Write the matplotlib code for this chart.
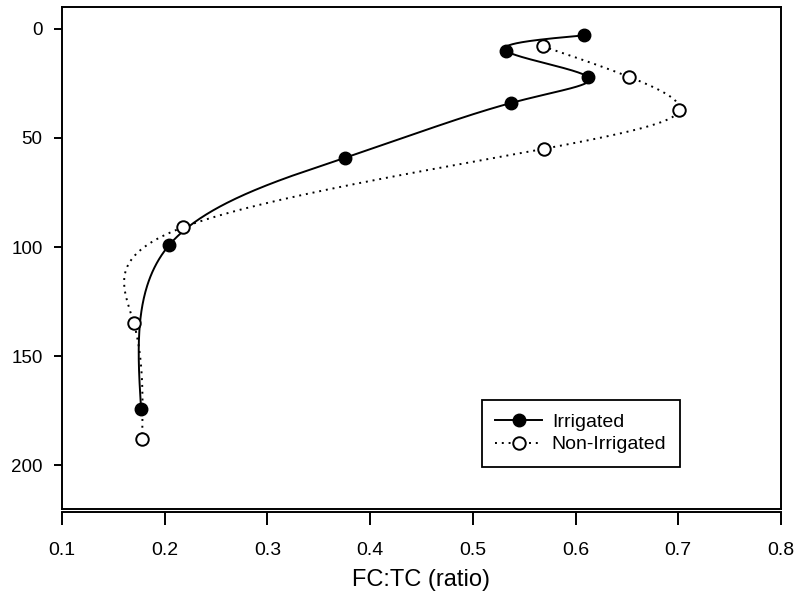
import numpy as np
import matplotlib
matplotlib.use("Agg")
import matplotlib.pyplot as plt

plt.rcParams['font.family'] = ['Liberation Sans', 'DejaVu Sans']

# depth profile, ordered top to bottom
irr_ratio = [0.608, 0.532, 0.612, 0.537, 0.376, 0.2045, 0.177]
irr_depth = [3, 10, 22, 34, 59, 99, 174]
non_ratio = [0.568, 0.652, 0.701, 0.569, 0.2175, 0.170, 0.178]
non_depth = [8, 22, 37, 55, 91, 135, 188]

x_ticks = [0.1, 0.2, 0.3, 0.4, 0.5, 0.6, 0.7, 0.8]
y_ticks = [0, 50, 100, 150, 200]


def natural_spline(t, v, tt):
    # natural cubic spline of v(t), evaluated at tt
    n = len(t)
    h = np.diff(t)
    A = np.zeros((n, n))
    b = np.zeros(n)
    A[0, 0] = 1
    A[-1, -1] = 1
    for i in range(1, n - 1):
        A[i, i - 1] = h[i - 1]
        A[i, i] = 2 * (h[i - 1] + h[i])
        A[i, i + 1] = h[i]
        b[i] = 6 * ((v[i + 1] - v[i]) / h[i] - (v[i] - v[i - 1]) / h[i - 1])
    M = np.linalg.solve(A, b)
    out = np.empty_like(tt)
    for k, s in enumerate(tt):
        i = min(np.searchsorted(t, s, side='right') - 1, n - 2)
        a = t[i + 1] - s
        c = s - t[i]
        out[k] = (M[i] * a**3 / (6 * h[i]) + M[i + 1] * c**3 / (6 * h[i])
                  + (v[i] / h[i] - M[i] * h[i] / 6) * a
                  + (v[i + 1] / h[i] - M[i + 1] * h[i] / 6) * c)
    return out


def smooth(xs, ys):
    xs = np.asarray(xs, float)
    ys = np.asarray(ys, float)
    t = np.arange(len(xs), dtype=float)  # uniform parameter, point index
    tt = np.linspace(0, t[-1], 600)
    return natural_spline(t, xs, tt), natural_spline(t, ys, tt)


fig = plt.figure(figsize=(7.99, 5.98), dpi=100)
ax = fig.add_axes([62/799, 1 - 509/598, 719/799, 502/598])

sx, sy = smooth(irr_ratio, irr_depth)
ax.plot(sx, sy, color='black', lw=1.4, solid_capstyle='round')
ax.plot(irr_ratio, irr_depth, 'o', color='black', ms=9, zorder=3)

nx, ny = smooth(non_ratio, non_depth)
ax.plot(nx, ny, color='black', lw=1.4, linestyle=(0, (1, 2.5)))
ax.plot(non_ratio, non_depth, 'o', mfc='white', mec='black', mew=1.4, ms=9, zorder=3)

h1, = ax.plot([], [], '-o', color='black', lw=1.4, ms=9)
h2, = ax.plot([], [], 'o', mfc='white', mec='black', mew=1.4, ms=9,
              linestyle=(0, (1, 2.5)), color='black', lw=1.4)
leg = ax.legend([h1, h2], ['Irrigated', 'Non-Irrigated'], loc='lower right',
                bbox_to_anchor=((680 - 62) / 719, (509 - 467) / 502),
                fontsize=14, frameon=True, fancybox=False, edgecolor='black',
                framealpha=1, handlelength=2.4, labelspacing=0.25,
                borderpad=0.7, handletextpad=0.5, borderaxespad=0)
leg.get_frame().set_linewidth(1.3)

ax.set_xlim(0.1, 0.8)
ax.set_ylim(220, -10)
ax.set_xticks(x_ticks)
ax.set_xticklabels([f'{v:.1f}' for v in x_ticks])
ax.set_yticks(y_ticks)
for s in ax.spines.values():
    s.set_linewidth(1.4)
ax.spines['bottom'].set_position(('outward', 2))
ax.axhline(220, color='black', lw=1.4, clip_on=False)
ax.tick_params(axis='x', direction='out', length=9, width=1.4, labelsize=14, pad=13)
ax.tick_params(axis='y', direction='out', length=6, width=1.4, labelsize=13.5, pad=8)
ax.set_xlabel('FC:TC (ratio)', fontsize=17, labelpad=7)

fig.savefig('out.png', dpi=100)
